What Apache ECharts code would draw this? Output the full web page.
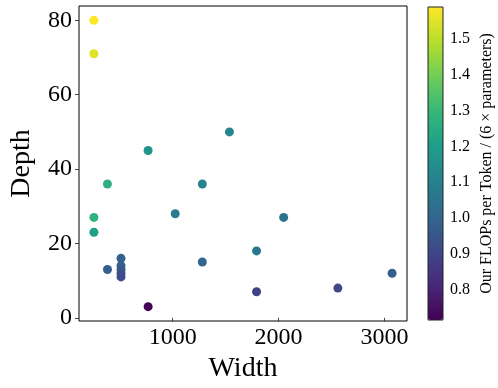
<!DOCTYPE html>
<html>
<head>
<meta charset="utf-8">
<script src="https://cdn.jsdelivr.net/npm/echarts@6/dist/echarts.min.js"></script>
<style>
  html, body { margin: 0; padding: 0; background: #fff; }
  #chart { width: 498px; height: 388px; }
</style>
</head>
<body>
<div id="chart"></div>
<script>
// model shapes and their flops ratio
const widths = [256, 256, 256, 256, 384, 384, 512, 512, 512, 512, 512, 768, 768, 1024, 1280, 1280, 1536, 1792, 1792, 2048, 2560, 3072];
const depths = [80, 71, 27, 23, 36, 13, 16, 14, 13, 12, 11, 45, 3, 28, 36, 15, 50, 18, 7, 27, 8, 12];
const flopsRatio = [1.59, 1.55, 1.28, 1.20, 1.27, 0.98, 0.99, 0.98, 0.96, 0.94, 0.92, 1.17, 0.72, 1.08, 1.11, 1.00, 1.11, 1.065, 0.89, 1.05, 0.91, 0.98];

const xTicks = [1000, 2000, 3000];
const yTicks = [0, 20, 40, 60, 80];
const cbarTicks = [0.8, 0.9, 1.0, 1.1, 1.2, 1.3, 1.4, 1.5];
const cbarMin = 0.715;
const cbarMax = 1.59;

const viridis = ['#440154', '#482878', '#3e4989', '#31688e', '#26828e', '#1f9e89', '#35b779', '#6ece58', '#b5de2b', '#fde725'];

const font = 'Liberation Serif';
const points = widths.map((w, i) => [w, depths[i], flopsRatio[i]]);

const chart = echarts.init(document.getElementById('chart'));

chart.setOption({
  animation: false,
  textStyle: { fontFamily: font, color: '#000' },
  grid: [
    { left: 69, top: 6, right: 91, bottom: 67, show: true, borderColor: '#000', borderWidth: 1 },
    { left: 428, top: 7, width: 15, height: 313, show: true, borderColor: '#222', borderWidth: 1, z: 10 }
  ],
  xAxis: [
    {
      gridIndex: 0, type: 'value', min: 115.2, max: 3212.8,
      name: 'Width', nameLocation: 'middle', nameGap: 31,
      nameTextStyle: { fontFamily: font, fontSize: 28, color: '#000' },
      axisLine: { show: false },
      axisTick: { show: true, customValues: xTicks, length: 4, lineStyle: { color: '#444' } },
      axisLabel: {
        customValues: xTicks, fontFamily: font, fontSize: 24, color: '#000', margin: 5,
        formatter: v => String(v)
      },
      splitLine: { show: false }
    },
    { gridIndex: 1, type: 'value', min: 0, max: 1, show: false }
  ],
  yAxis: [
    {
      gridIndex: 0, type: 'value', min: -0.85, max: 83.85,
      name: 'Depth', nameLocation: 'middle', nameRotate: 90, nameGap: 43,
      nameTextStyle: { fontFamily: font, fontSize: 28, color: '#000' },
      axisLine: { show: false },
      axisTick: { show: true, customValues: yTicks, length: 4, lineStyle: { color: '#444' } },
      axisLabel: { customValues: yTicks, fontFamily: font, fontSize: 24, color: '#000', margin: 7 },
      splitLine: { show: false }
    },
    {
      gridIndex: 1, type: 'value', position: 'right', min: cbarMin, max: cbarMax,
      name: 'Our FLOPs per Token / (6 × parameters)', nameLocation: 'middle', nameRotate: 90, nameGap: 36,
      nameTextStyle: { fontFamily: font, fontSize: 16, color: '#000' },
      axisLine: { show: false },
      axisTick: { show: true, customValues: cbarTicks, length: 3, lineStyle: { color: '#444' } },
      axisLabel: {
        customValues: cbarTicks, fontFamily: font, fontSize: 16, color: '#000', margin: 7,
        formatter: v => v.toFixed(1)
      },
      splitLine: { show: false }
    }
  ],
  visualMap: {
    type: 'continuous',
    seriesIndex: 0,
    dimension: 2,
    min: cbarMin,
    max: cbarMax,
    calculable: false,
    hoverLink: false,
    left: 428,
    top: 7,
    padding: 0,
    itemWidth: 15,
    itemHeight: 313,
    inRange: { color: viridis }
  },
  series: [
    {
      type: 'scatter',
      xAxisIndex: 0,
      yAxisIndex: 0,
      symbolSize: 9,
      itemStyle: { opacity: 1 },
      data: points
    }
  ]
});
</script>
</body>
</html>
